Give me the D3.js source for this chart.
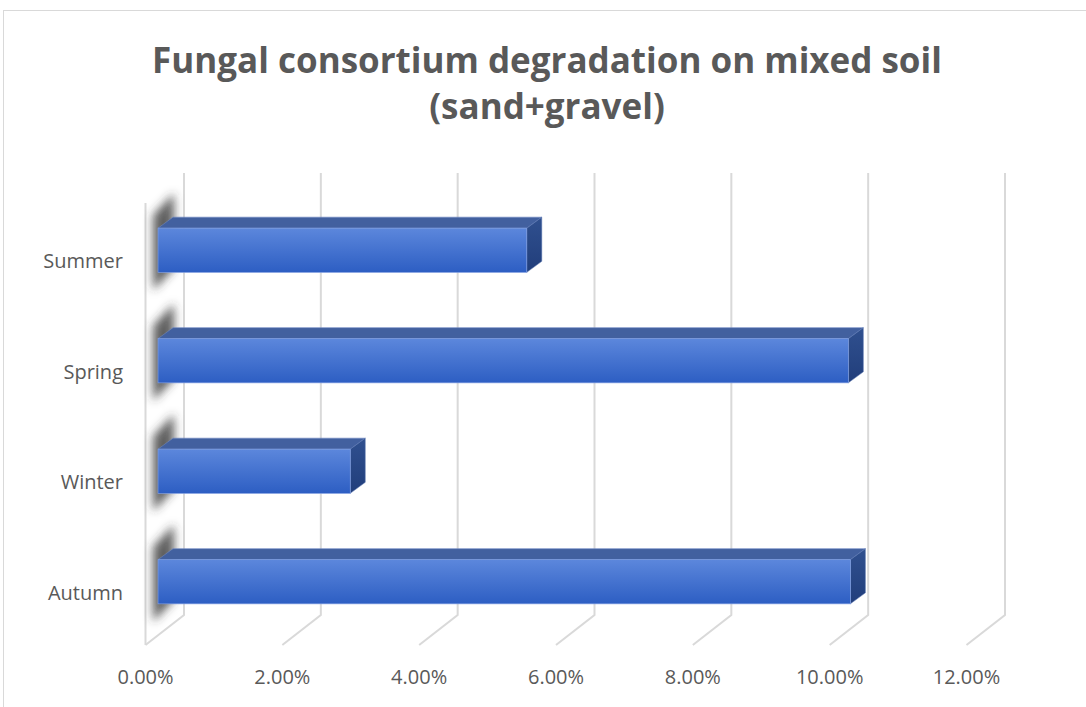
<!DOCTYPE html>
<html>
<head>
<meta charset="utf-8">
<script src="https://cdn.jsdelivr.net/npm/d3@7"></script>
<style>
  html, body { margin: 0; padding: 0; background: #ffffff; }
  svg { display: block; }
  text { font-family: "Open Sans", "Liberation Sans", sans-serif; fill: #595959; }
</style>
</head>
<body>
<svg id="chart" width="1086" height="707"></svg>
<script>
// Degradation by season (fraction, shown as percent)
const seasons = ["Summer", "Spring", "Winter", "Autumn"];
const degradation = [0.0539, 0.1009, 0.0281, 0.1012];
const tickValues = [0, 0.02, 0.04, 0.06, 0.08, 0.10, 0.12];
const titleLines = ["Fungal consortium degradation on mixed soil", "(sand+gravel)"];

const svg = d3.select("#chart");
const W = 1086, H = 707;

// Oblique 3D box: back wall plane, floor runs toward the viewer
const wallTop = 173, wallBottom = 615;
const depthDX = -38.5, depthDY = 30;       // back wall -> front edge
const barFront = { dx: -26, dy: 22 };       // bar front face offset from back wall
const barBack  = { dx: -11, dy: 11 };       // bar back face offset from back wall

const x = d3.scaleLinear().domain([0, 0.12]).range([184, 1005]);
const y = d3.scaleBand().domain(seasons).range([wallTop, wallBottom]).padding(0);
const barH = y.bandwidth() * 0.4;

const defs = svg.append("defs");
const blur = defs.append("filter").attr("id", "soft")
  .attr("x", "-50%").attr("y", "-50%").attr("width", "200%").attr("height", "200%");
blur.append("feGaussianBlur").attr("stdDeviation", 5);

const gFront = defs.append("linearGradient").attr("id", "gFront")
  .attr("x1", 0).attr("y1", 0).attr("x2", 0).attr("y2", 1);
gFront.append("stop").attr("offset", "0%").attr("stop-color", "#5c87dc");
gFront.append("stop").attr("offset", "100%").attr("stop-color", "#2d5ec3");

const gSide = defs.append("linearGradient").attr("id", "gSide")
  .attr("x1", 0).attr("y1", 0).attr("x2", 0).attr("y2", 1);
gSide.append("stop").attr("offset", "0%").attr("stop-color", "#30508f");
gSide.append("stop").attr("offset", "100%").attr("stop-color", "#213e7b");

// chart area border
svg.append("rect")
  .attr("x", 3.5).attr("y", 10.5).attr("width", W + 20).attr("height", H + 20)
  .attr("fill", "#ffffff").attr("stroke", "#d9d9d9").attr("stroke-width", 1);

// title
svg.append("text")
  .attr("text-anchor", "middle")
  .attr("font-size", 35).attr("font-weight", 700)
  .selectAll("tspan").data(titleLines).join("tspan")
  .attr("x", 547)
  .attr("y", (d, i) => 73 + i * 46)
  .text(d => d);

// gridlines: back wall verticals + floor diagonals
const grid = svg.append("g").attr("stroke", "#d9d9d9").attr("stroke-width", 2).attr("fill", "none");
grid.selectAll("path.gl").data(tickValues).join("path").attr("class", "gl")
  .attr("d", t => d3.line()([
    [x(t), wallTop],
    [x(t), wallBottom],
    [x(t) + depthDX, wallBottom + depthDY]
  ]));
// left wall front edge
grid.append("line")
  .attr("x1", x(0) + depthDX).attr("x2", x(0) + depthDX)
  .attr("y1", wallTop + depthDY).attr("y2", wallBottom + depthDY);

// bar shadows cast on the left wall
svg.append("g").attr("filter", "url(#soft)")
  .selectAll("path").data(seasons).join("path")
  .attr("fill", "#3a3a3a").attr("opacity", 0.8)
  .attr("d", s => {
    const c = y(s) + y.bandwidth() / 2 + barFront.dy;
    return d3.line()([[153, c - 35], [174, c - 57], [174, c + 18], [153, c + 40]]) + "Z";
  });

// 3D bars
const bars = svg.append("g").selectAll("g").data(seasons).join("g");
bars.each(function (s, i) {
  const g = d3.select(this);
  const v = degradation[i];
  const c = y(s) + y.bandwidth() / 2;
  const fy0 = c + barFront.dy - barH / 2, fy1 = fy0 + barH;
  const fx0 = x(0) + barFront.dx, fx1 = x(v) + barFront.dx;
  const bdx = barBack.dx - barFront.dx, bdy = barBack.dy - barFront.dy;

  // top face
  g.append("path")
    .attr("d", d3.line()([[fx0, fy0], [fx1, fy0], [fx1 + bdx, fy0 + bdy], [fx0 + bdx, fy0 + bdy]]) + "Z")
    .attr("fill", "#42609f").attr("stroke", "#6b86c2").attr("stroke-width", 0.6);
  // end face
  g.append("path")
    .attr("d", d3.line()([[fx1, fy0], [fx1 + bdx, fy0 + bdy], [fx1 + bdx, fy1 + bdy], [fx1, fy1]]) + "Z")
    .attr("fill", "url(#gSide)").attr("stroke", "#5470ad").attr("stroke-width", 0.5);
  // front face
  g.append("rect")
    .attr("x", fx0).attr("y", fy0).attr("width", fx1 - fx0).attr("height", barH)
    .attr("fill", "url(#gFront)").attr("stroke", "#7f9de0").attr("stroke-width", 0.7);
});

// category labels
svg.append("g").selectAll("text").data(seasons).join("text")
  .attr("x", 123)
  .attr("y", s => y(s) + y.bandwidth() / 2 + 33)
  .attr("dy", "0.35em")
  .attr("text-anchor", "end")
  .attr("font-size", 20)
  .text(d => d);

// value axis labels along the front floor edge
const fmt = d3.format(".2%");
svg.append("g").selectAll("text").data(tickValues).join("text")
  .attr("x", t => x(t) + depthDX)
  .attr("y", 677)
  .attr("dy", "0.35em")
  .attr("text-anchor", "middle")
  .attr("font-size", 20)
  .text(t => fmt(t));
</script>
</body>
</html>
